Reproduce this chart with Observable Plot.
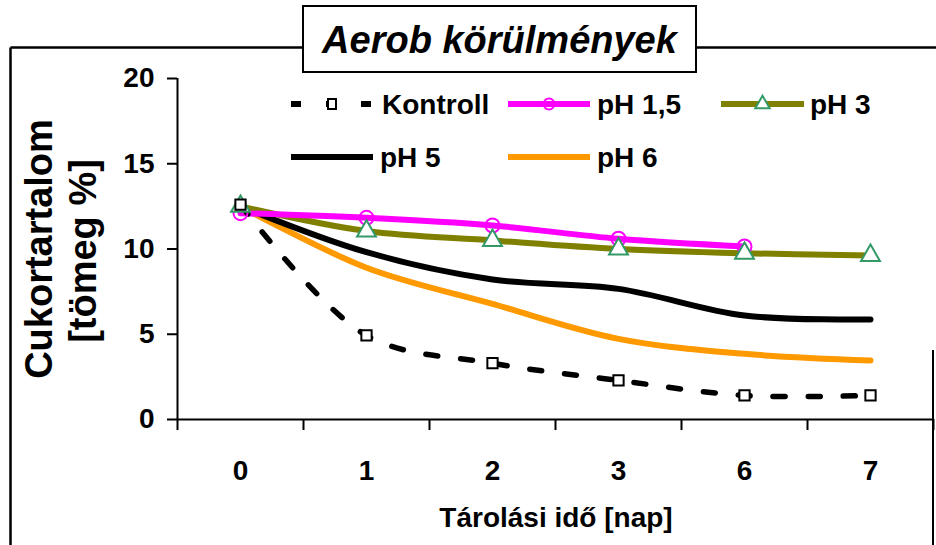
<!DOCTYPE html>
<html><head><meta charset="utf-8">
<script src="https://cdn.jsdelivr.net/npm/d3@7"></script>
<script src="https://cdn.jsdelivr.net/npm/@observablehq/plot@0.6"></script>
<style>body{margin:0;background:#fff;} #chart{width:936px;height:545px;}</style>
</head><body><div id="chart"></div>
<script>
// ---- data ----
const days = ["0", "1", "2", "3", "6", "7"];
const yTicks = [0, 5, 10, 15, 20];
const kontroll = [12.6, 4.93, 3.3, 2.29, 1.41, 1.41];
const ph15 = [12.1, 11.83, 11.38, 10.6, 10.15];
const ph3 = [12.5, 11.05, 10.5, 10.0, 9.75, 9.62];
const ph5 = [12.5, 9.81, 8.21, 7.66, 6.1, 5.87];
const ph6 = [12.5, 8.9, 6.78, 4.73, 3.85, 3.46];
const seriesNames = ["Kontroll", "pH 1,5", "pH 3", "pH 5", "pH 6"];
const titleText = "Aerob körülmények";
const xTitle = "Tárolási idő [nap]";
const yTitle1 = "Cukortartalom";
const yTitle2 = "[tömeg %]";

const FONT = "'Liberation Sans', Arial, sans-serif";
const tidy = (name, arr) => arr.map((v, i) => ({series: name, i, v}));
const dK = tidy(seriesNames[0], kontroll);
const d15 = tidy(seriesNames[1], ph15);
const d3s = tidy(seriesNames[2], ph3);
const d5 = tidy(seriesNames[3], ph5);
const d6 = tidy(seriesNames[4], ph6);

const C = {k: "#000000", p15: "#FF00FF", p3: "#808000", p3m: "#339966", p5: "#000000", p6: "#FF9900"};
const LW = 6;

const svg = Plot.plot({
  width: 936, height: 545,
  marginLeft: 177, marginRight: 3, marginTop: 78, marginBottom: 126,
  style: {fontFamily: FONT, background: "white", overflow: "visible", color: "black"},
  x: {domain: [-0.5, 5.5], axis: null},
  y: {domain: [0, 20], axis: null},
  marks: [
    Plot.axisY({ticks: yTicks, tickSize: 10, tickPadding: 13, fontSize: 28, fontWeight: "bold", strokeWidth: 2, label: null}),
    Plot.axisX({ticks: d3.range(-0.5, 6, 1), tickSize: 11, tickFormat: () => "", strokeWidth: 2, label: null}),
    Plot.axisX({ticks: days.map((d, i) => i), tickSize: 0, tickPadding: 41, tickFormat: i => days[i], fontSize: 28, fontWeight: "bold", label: null}),
    Plot.ruleX([-0.5], {strokeWidth: 2}),
    Plot.ruleY([0], {strokeWidth: 2}),
    Plot.line(d6, {x: "i", y: "v", stroke: C.p6, strokeWidth: LW, curve: "catmull-rom"}),
    Plot.line(d5, {x: "i", y: "v", stroke: C.p5, strokeWidth: LW, curve: "catmull-rom"}),
    Plot.line(d3s, {x: "i", y: "v", stroke: C.p3, strokeWidth: LW, curve: "catmull-rom"}),
    Plot.line(d15, {x: "i", y: "v", stroke: C.p15, strokeWidth: LW, curve: "catmull-rom"}),
    Plot.line(dK, {x: "i", y: "v", stroke: C.k, strokeWidth: 5.5, strokeDasharray: "12,23", curve: "catmull-rom"}),
    Plot.dot(d15, {x: "i", y: "v", r: 7, stroke: C.p15, fill: "none", strokeWidth: 2}),
    Plot.dot(d3s, {x: "i", y: "v", symbol: "triangle", r: 7, stroke: C.p3m, fill: "white", strokeWidth: 2}),
    Plot.dot(dK, {x: "i", y: "v", symbol: "square", r: 5.8, stroke: "black", fill: "white", strokeWidth: 2})
  ]
});
document.getElementById("chart").appendChild(svg);

const s = d3.select(svg);
// frame
s.append("line").attr("x1", 10.5).attr("x2", 936).attr("y1", 47.5).attr("y2", 47.5).attr("stroke", "black").attr("stroke-width", 2.5);
s.append("line").attr("x1", 10.5).attr("x2", 10.5).attr("y1", 47.5).attr("y2", 545).attr("stroke", "black").attr("stroke-width", 2.5);
s.append("line").attr("x1", 933).attr("x2", 933).attr("y1", 350).attr("y2", 545).attr("stroke", "black").attr("stroke-width", 2);
// title box
s.append("rect").attr("x", 303).attr("y", 6).attr("width", 393).attr("height", 66).attr("fill", "white").attr("stroke", "black").attr("stroke-width", 2);
s.append("text").attr("x", 499.5).attr("y", 53).attr("text-anchor", "middle").attr("font-size", 38).attr("font-weight", "bold").attr("font-style", "italic").attr("font-family", FONT).text(titleText);
// axis titles
s.append("text").attr("transform", "translate(52,249) rotate(-90)").attr("text-anchor", "middle").attr("font-size", 38).attr("font-weight", "bold").attr("font-family", FONT).text(yTitle1);
s.append("text").attr("transform", "translate(96,251) rotate(-90)").attr("text-anchor", "middle").attr("font-size", 38).attr("font-weight", "bold").attr("font-family", FONT).text(yTitle2);
s.append("text").attr("x", 556).attr("y", 527).attr("text-anchor", "middle").attr("font-size", 28).attr("font-weight", "bold").attr("font-family", FONT).text(xTitle);

// legend
const leg = s.append("g").attr("font-family", FONT).attr("font-size", 28).attr("font-weight", "bold").attr("text-anchor", "start");
const items = [
  {name: seriesNames[0], x1: 291, x2: 373, y: 104, stroke: C.k, dash: "10,25", marker: "square", tx: 382},
  {name: seriesNames[1], x1: 508, x2: 590, y: 104, stroke: C.p15, marker: "circle", tx: 597},
  {name: seriesNames[2], x1: 721, x2: 804, y: 104, stroke: C.p3, marker: "triangle", tx: 810},
  {name: seriesNames[3], x1: 291, x2: 373, y: 157, stroke: C.p5, tx: 380},
  {name: seriesNames[4], x1: 508, x2: 590, y: 157, stroke: C.p6, tx: 597}
];
for (const it of items) {
  const l = leg.append("line").attr("x1", it.x1).attr("x2", it.x2).attr("y1", it.y).attr("y2", it.y).attr("stroke", it.stroke).attr("stroke-width", 6);
  if (it.dash) l.attr("stroke-dasharray", it.dash);
  const cx = (it.x1 + it.x2) / 2;
  if (it.marker === "square") leg.append("rect").attr("x", cx - 4).attr("y", it.y - 5).attr("width", 8).attr("height", 10).attr("fill", "white").attr("stroke", "black").attr("stroke-width", 2);
  if (it.marker === "circle") leg.append("circle").attr("cx", cx).attr("cy", it.y).attr("r", 5.5).attr("fill", "none").attr("stroke", C.p15).attr("stroke-width", 2);
  if (it.marker === "triangle") leg.append("path").attr("transform", `translate(${cx},${it.y})`).attr("d", d3.symbol(d3.symbolTriangle, 90)()).attr("fill", "white").attr("stroke", C.p3m).attr("stroke-width", 2);
  leg.append("text").attr("x", it.tx).attr("y", it.y + 10).attr("text-anchor", "start").text(it.name);
}
</script>
</body></html>
